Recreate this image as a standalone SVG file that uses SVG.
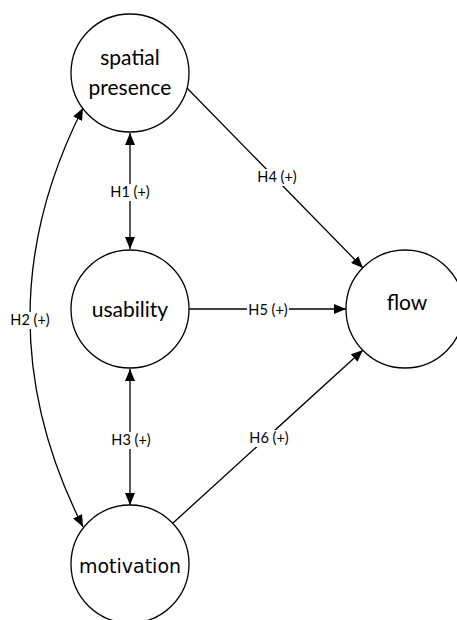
<svg xmlns="http://www.w3.org/2000/svg" width="457" height="620" viewBox="0 0 457 620">
<style>
.node{fill:#fff;stroke:#000;stroke-width:1.3}
.nt{font-family:Lato,"Liberation Sans",sans-serif;font-size:21px;fill:#000;text-anchor:middle}
.edge{fill:none;stroke:#000;stroke-width:1.3;marker-end:url(#ah)}
.both{marker-start:url(#ah)}
.bg{fill:#fff}
.lbl{font-family:Lato,"Liberation Sans",sans-serif;font-size:14.5px;fill:#000;text-anchor:middle}
</style>
<defs>
<marker id="ah" markerUnits="userSpaceOnUse" markerWidth="12" markerHeight="10" refX="12" refY="5" orient="auto-start-reverse" viewBox="0 0 12 10">
<path d="M0,0 L12,5 L0,10 Z" fill="#000"/>
</marker>
</defs>
<rect width="457" height="620" fill="#fff"/>
<g id="connectors">
<path class="edge both" d="M130,133 L130,249"/>
<path class="edge both" d="M130,369 L130,505"/>
<path class="edge both" d="M83,108 Q-23,317 83,527"/>
<path class="edge" d="M187,88 L363,268"/>
<path class="edge" d="M189,309 L346,309"/>
<path class="edge" d="M173,523 L363,350"/>
<rect class="bg" x="108" y="184" width="44" height="17"/>
<rect class="bg" x="109" y="432" width="44" height="17"/>
<rect class="bg" x="8" y="312" width="44" height="17"/>
<rect class="bg" x="255" y="169" width="44" height="17"/>
<rect class="bg" x="247" y="302" width="42" height="17"/>
<rect class="bg" x="247" y="430" width="44" height="17"/>
<text class="lbl" x="130" y="197">H1 (+)</text>
<text class="lbl" x="131" y="445">H3 (+)</text>
<text class="lbl" x="30" y="325">H2 (+)</text>
<text class="lbl" x="277" y="182">H4 (+)</text>
<text class="lbl" x="268" y="315">H5 (+)</text>
<text class="lbl" x="269" y="443">H6 (+)</text>
</g>
<g id="spatial-presence">
<circle class="node" cx="130" cy="73" r="59"/>
<text class="nt" x="130" y="65">spatial</text>
<text class="nt" x="130" y="95">presence</text>
</g>
<g id="usability">
<circle class="node" cx="130" cy="309" r="59"/>
<text class="nt" x="130" y="317">usability</text>
</g>
<g id="motivation">
<circle class="node" cx="130" cy="564" r="59"/>
<text class="nt" x="130" y="573" style="font-family:'DejaVu Sans',sans-serif;font-size:19px">motivation</text>
</g>
<g id="flow">
<circle class="node" cx="405" cy="309" r="59"/>
<text class="nt" x="407" y="310">flow</text>
</g>
</svg>
